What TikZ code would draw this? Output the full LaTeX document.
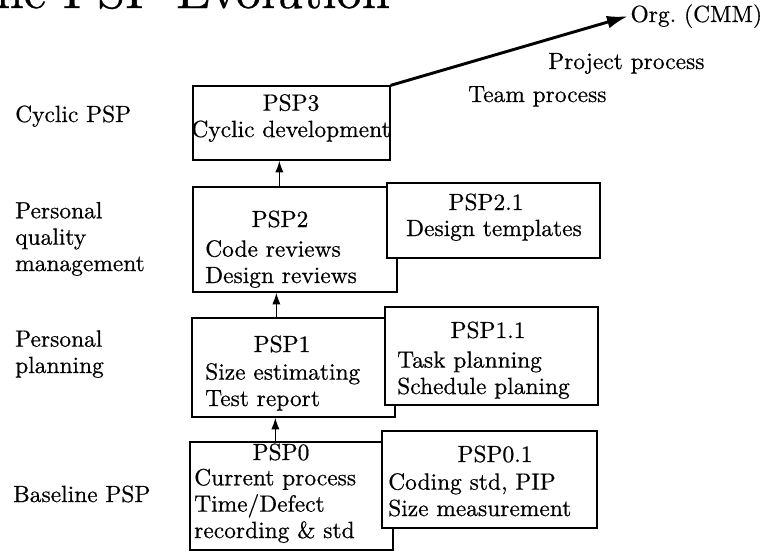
\documentclass[tikz,border=0pt]{standalone}
\usepackage{fontspec}
\setmainfont{lmroman10-regular}[Extension=.otf, FakeBold=0.6]
\usetikzlibrary{arrows.meta, calc, fit}

\tikzset{
  box/.style={draw, fill=white, line width=1.1pt, inner sep=0pt},
  txt/.style={inner sep=0pt, align=left, anchor=base west},
  ttl/.style={inner sep=0pt, anchor=base},
  up/.style={line width=1.2pt, -{Latex[length=10pt,width=7pt]}},
}

\begin{document}
\begin{tikzpicture}[x=0.03cm, y=-0.03cm,
  every node/.style={font=\fontsize{20}{22.5}\selectfont}]

	\clip (0,0) rectangle (763,552);

	% heading, cut off at the top
	\node[ttl, anchor=base east, font=\fontsize{43}{48}\selectfont] (head) at (390,8) {The PSP Evolution};

	% levels on the left (multi-line nodes sit on their last line)
	\node[txt] (lvl3) at (15,122) {Cyclic PSP};
	\node[txt] (lvl2) at (15,271) {Personal\\quality\\management};
	\node[txt] (lvl1) at (15,373) {Personal\\planning};
	\node[txt] (lvl0) at (13,502) {Baseline PSP};

	% PSP3
	\node[box, fit={(193,86) (390,160)}] (psp3) {};
	\node[ttl, align=center] (psp3t) at (291,137) {PSP3\\Cyclic development};

	% PSP2 and PSP2.1
	\node[box, fit={(193,187) (397,292)}] (psp2) {};
	\node[ttl] (psp2t) at (280,227) {PSP2};
	\node[txt] (psp2b) at (205,283) {Code reviews\\Design reviews};
	\node[box, fit={(387,183) (600,258)}] (psp21) {};
	\node[ttl] (psp21t) at (486,210) {PSP2.1};
	\node[ttl] (psp21b) at (494,236) {Design templates};

	% PSP1 and PSP1.1
	\node[box, fit={(192,318) (395,417)}] (psp1) {};
	\node[ttl] (psp1t) at (282,352) {PSP1};
	\node[txt] (psp1b) at (205,406) {Size estimating\\Test report};
	\node[box, fit={(385,307) (598,405)}] (psp11) {};
	\node[ttl] (psp11t) at (488,338) {PSP1.1};
	\node[txt] (psp11b) at (397,394) {Task planning\\Schedule planing};

	% PSP0 and PSP0.1
	\node[box, fit={(190,442) (393,550)}] (psp0) {};
	\node[ttl] (psp0t) at (281,460) {PSP0};
	\node[txt] (psp0b) at (194,538) {Current process\\Time/Defect\\recording \& std};
	\node[box, fit={(382,431) (597,528)}] (psp01) {};
	\node[ttl] (psp01t) at (495,462) {PSP0.1};
	\node[txt] (psp01b) at (388,516) {Coding std, PIP\\Size measurement};

	\draw[up] ($(psp0.north west)+(86,0)$) -- ($(psp1.south west)+(84,0)$);
	\draw[up] ($(psp1.north west)+(85,0)$) -- ($(psp2.south west)+(84,0)$);
	\draw[up] ($(psp2.north west)+(87,0)$) -- ($(psp3.south west)+(87,0)$);

	% beyond the PSP
	\node[inner sep=2pt, anchor=base west] (org) at (628,22) {Org.~(CMM)};
	\node[txt] (proj) at (548,69) {Project process};
	\node[txt] (team) at (468,102) {Team process};
	\draw[line width=2.5pt, -{Latex[length=18pt,width=11pt]}] (psp3.north east) -- (org.west);
\end{tikzpicture}
\end{document}
